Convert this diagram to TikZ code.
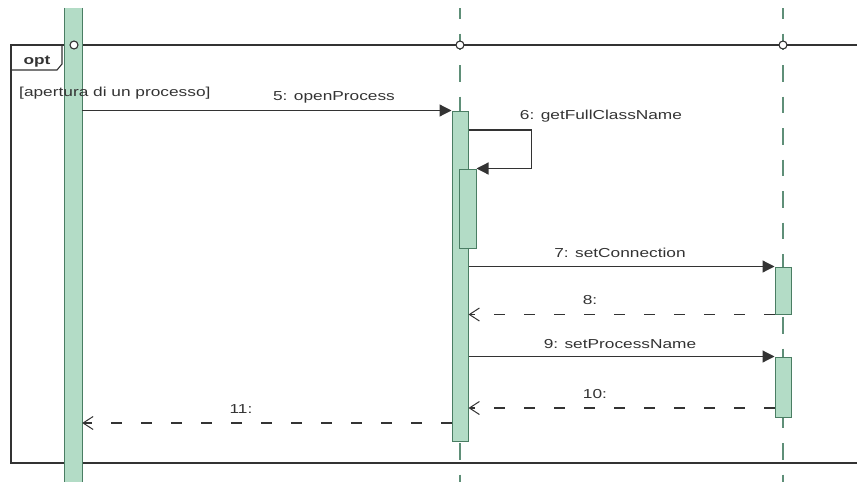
\documentclass[tikz,border=0pt]{standalone}
\usepackage{fontspec}
\usepackage{graphicx}
\setmainfont{Liberation Sans}
\usetikzlibrary{arrows.meta}
\definecolor{actfill}{HTML}{B3DCC6}
\definecolor{actline}{HTML}{4A7D63}
\definecolor{llcol}{HTML}{5F8F78}
\definecolor{lnk}{HTML}{333333}
\newcommand\lb[1]{\scalebox{1.33}[1]{#1}}
\tikzset{
  actbox/.style={rectangle, draw=actline, fill=actfill, line width=1pt, inner sep=0pt},
  lifeline/.style={draw=llcol, line width=1.1pt, dash pattern=on 16.5pt off 15pt, dash phase=6pt},
  msg/.style={draw=lnk, line width=1.2pt, -{Triangle[length=12pt,width=12pt]}},
  ret/.style={draw=lnk, line width=1.2pt, dash pattern=on 11pt off 19pt, -{Straight Barb[length=10pt,width=13pt,line width=1pt]}},
  lbl/.style={anchor=base, inner sep=0pt, font=\fontsize{13}{15}\selectfont, text=lnk},
  lcirc/.style={circle, draw=lnk, fill=white, line width=1.1pt, minimum size=8pt, inner sep=0pt},
  framel/.style={draw=lnk, line width=1.1pt}
}
\begin{document}
\begin{tikzpicture}[x=1pt,y=-1pt]
\useasboundingbox (0,0) rectangle (857,482);
% lifelines
\coordinate (l2top) at (460,8);
\coordinate (l2bot) at (460,482);
\coordinate (l3top) at (783,8);
\coordinate (l3bot) at (783,482);
\draw[lifeline] (l2top) -- (l2bot);
\draw[lifeline] (l3top) -- (l3bot);
% frame
\draw[framel] (857,45) -- (11,45) -- (11,463) -- (857,463);
\draw[framel] (11,70) -- (57,70) -- (62,64) -- (62,45);
\node[lbl, font=\fontsize{13}{15}\selectfont\bfseries] (opt) at (37,64) {\lb{opt}};
% left activation bar
\node[rectangle, fill=actfill, draw=none, minimum width=17pt, minimum height=474pt, inner sep=0pt] (bar1) at (73.5,245) {};
\draw[actline, line width=1pt] (bar1.north west) -- (bar1.south west);
\draw[actline, line width=1pt] (bar1.north east) -- (bar1.south east);
% activations
\node[actbox, minimum width=16pt, minimum height=330pt] (act2) at (460,276) {};
\node[actbox, minimum width=17pt, minimum height=79pt] (act2b) at (467.5,208.5) {};
\node[actbox, minimum width=16pt, minimum height=47pt] (act3a) at (783,290.5) {};
\node[actbox, minimum width=16pt, minimum height=60pt] (act3b) at (783,387) {};
% circles
\node[lcirc] (c1) at (74,45) {};
\node[lcirc] (c2) at (460,45) {};
\node[lcirc] (c3) at (783,45) {};
% guard
\node[lbl, anchor=base west] (guard) at (19,96) {\lb{[apertura di un processo]}};
% messages
\coordinate (y6) at (0,130);
\coordinate (y10) at (0,408);
\coordinate (y11) at (0,423);
\draw[msg] (bar1.east |- act2.north) -- (act2.north west);
\draw[msg] (act2.east |- y6) -- ++(63,0) |- (act2b.north east);
\draw[msg] (act2.east |- act3a.north) -- (act3a.north west);
\draw[ret] (act3a.south west) -- (act2.east |- act3a.south);
\draw[msg] (act2.east |- act3b.north) -- (act3b.north west);
\draw[ret] (act3b.west |- y10) -- (act2.east |- y10);
\draw[ret] (act2.west |- y11) -- (bar1.east |- y11);
% labels
\node[lbl] (l5) at (334,100) {\lb{5: openProcess}};
\node[lbl] (l6) at (601,119) {\lb{6: getFullClassName}};
\node[lbl] (l7) at (620,257) {\lb{7: setConnection}};
\node[lbl] (l8) at (590,304) {\lb{8:}};
\node[lbl] (l9) at (620,348) {\lb{9: setProcessName}};
\node[lbl] (l10) at (595,398) {\lb{10:}};
\node[lbl] (l11) at (241,413) {\lb{11:}};
\end{tikzpicture}
\end{document}
